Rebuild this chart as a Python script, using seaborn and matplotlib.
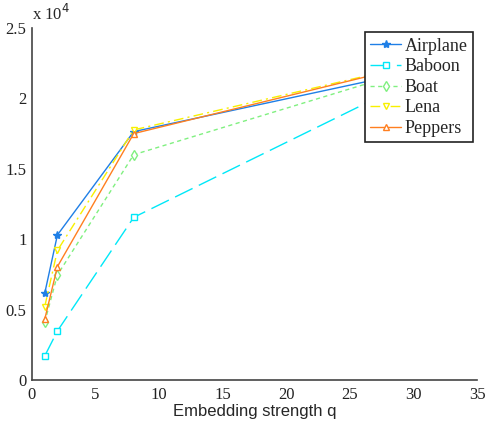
import matplotlib
matplotlib.use("Agg")
import matplotlib.pyplot as plt
import seaborn as sns

# --- data (values in units of 1e4) ---
strength = [1, 2, 8, 32]
airplane = [0.615, 1.03, 1.764, 2.23]
baboon = [0.17, 0.348, 1.155, 2.22]
boat = [0.41, 0.746, 1.60, 2.26]
lena = [0.52, 0.92, 1.776, 2.28]
peppers = [0.43, 0.805, 1.75, 2.28]

names = ["Airplane", "Baboon", "Boat", "Lena", "Peppers"]
series = [airplane, baboon, boat, lena, peppers]

x_ticks = [0, 5, 10, 15, 20, 25, 30, 35]
y_ticks = [0, 0.5, 1, 1.5, 2, 2.5]
y_tick_labels = ["0", "0.5", "1", "1.5", "2", "2.5"]

colors = ["#1F7FE6", "#00E8F8", "#80F080", "#F8F000", "#FF7F20"]
markers = ["*", "s", "d", "v", "^"]
sizes = [6, 5, 5, 5, 5]
styles = ["-", (0, (14, 5)), (0, (3, 2.5)), (0, (7, 3, 1.5, 3)), "-"]
filled = [True, False, False, False, False]

sns.set_style("white")
plt.rcParams["font.family"] = ["Liberation Serif", "DejaVu Serif"]

fig = plt.figure(figsize=(4.89, 4.24), dpi=100)
ax = fig.add_axes([0.0654, 0.1038, 0.9101, 0.8302])

for name, vals, c, m, ms, ls, f in zip(names, series, colors, markers, sizes, styles, filled):
    sns.lineplot(x=strength, y=vals, label=name, color=c, marker=m,
                 linestyle=ls, linewidth=1.0, markersize=ms,
                 markeredgecolor=c, markerfacecolor=c if f else "white",
                 markeredgewidth=1.0, ax=ax)

ax.set_xlim(0, 35)
ax.set_ylim(0, 2.5)
ax.set_xticks(x_ticks)
ax.set_yticks(y_ticks)
ax.set_yticklabels(y_tick_labels)
ax.tick_params(direction="in", length=4, labelsize=12, colors="#222222", width=1)
ax.tick_params(axis="x", pad=5)
ax.tick_params(axis="y", pad=4)
for s in ["top", "right"]:
    ax.spines[s].set_visible(False)
for s in ["left", "bottom"]:
    ax.spines[s].set_color("#444444")
    ax.spines[s].set_linewidth(1.2)

ax.set_xlabel("Embedding strength q", family=["Liberation Sans", "DejaVu Sans"],
              fontsize=12, labelpad=1)
ax.set_ylabel("")
ax.text(0.0, 1.012, r"x 10$^{4}$", transform=ax.transAxes, fontsize=12,
        ha="left", va="bottom")

leg = ax.legend(loc="upper right", bbox_to_anchor=(0.991, 0.988),
                frameon=True, fancybox=False, fontsize=13, handlelength=1.7,
                handletextpad=0.2, labelspacing=0.2, borderpad=0.3,
                borderaxespad=0.0, framealpha=1)
leg.get_frame().set_edgecolor("#222222")
leg.get_frame().set_linewidth(1.2)

fig.savefig("out.png", dpi=100)
